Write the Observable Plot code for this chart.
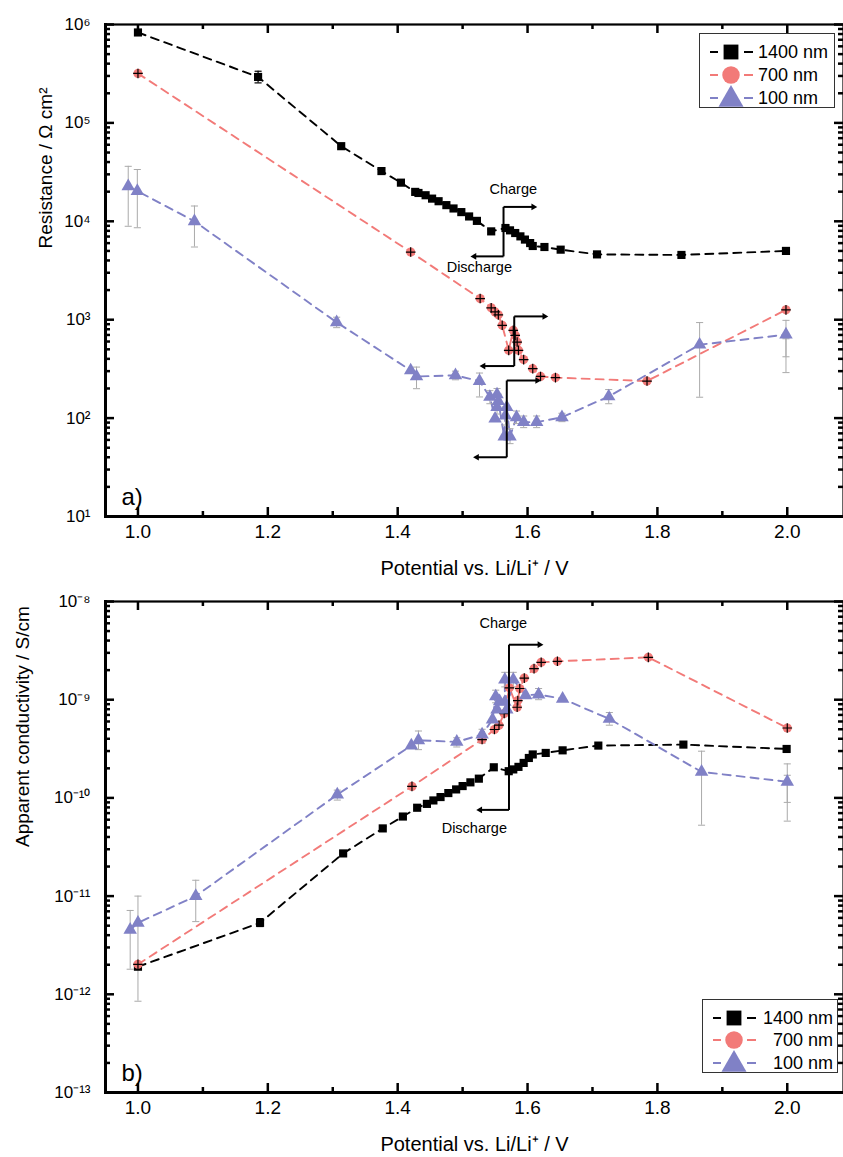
<!DOCTYPE html>
<html><head><meta charset="utf-8">
<script src="https://cdn.jsdelivr.net/npm/d3@7"></script>
<script src="https://cdn.jsdelivr.net/npm/@observablehq/plot@0.6"></script>
<style>
body{margin:0;background:#fff;font-family:"Liberation Sans",Arial,sans-serif;}
#wrap{position:relative;width:843px;height:1157px;overflow:hidden;background:#fff;}
#top,#bot{position:absolute;left:0;}
#top{top:0}#bot{top:590px}
.legend{position:absolute;}
</style></head><body><div id="wrap"><div id="top"></div><div id="bot"></div></div>
<script>
// ---------- DATA ----------
const seriesNames = ["1400 nm", "700 nm", "100 nm"];
const colors = ["#000000", "#f27a78", "#8081c6"];
const errGray = "#aaaaaa";

// panel a) Resistance / Ω cm²
const resV1400 = [1.0, 1.185, 1.313, 1.375, 1.405, 1.427, 1.432, 1.443, 1.453, 1.463, 1.475, 1.486, 1.498, 1.51, 1.522, 1.544, 1.566, 1.573, 1.581, 1.589, 1.596, 1.604, 1.608, 1.626, 1.651, 1.707, 1.837, 1.998];
const res1400  = [8.3e5, 2.93e5, 5.8e4, 3.24e4, 2.47e4, 1.99e4, 1.94e4, 1.84e4, 1.70e4, 1.60e4, 1.46e4, 1.35e4, 1.24e4, 1.12e4, 1.01e4, 7.9e3, 8.55e3, 8.09e3, 7.6e3, 7.03e3, 6.52e3, 6.01e3, 5.61e3, 5.48e3, 5.15e3, 4.61e3, 4.55e3, 5.0e3];
const resV700 = [1.0, 1.42, 1.527, 1.544, 1.55, 1.555, 1.561, 1.571, 1.578, 1.581, 1.584, 1.586, 1.594, 1.608, 1.62, 1.643, 1.784, 1.998];
const res700  = [3.18e5, 4.87e3, 1.64e3, 1.32e3, 1.2e3, 1.12e3, 877, 488, 780, 693, 593, 488, 393, 318, 265, 258, 238, 1.26e3];
const resV100 = [0.985, 0.999, 1.087, 1.306, 1.42, 1.429, 1.489, 1.526, 1.542, 1.550, 1.553, 1.553, 1.555, 1.564, 1.566, 1.568, 1.573, 1.583, 1.594, 1.614, 1.653, 1.725, 1.865, 1.998];
const res100  = [2.27e4, 2.03e4, 1.0e4, 940, 305, 265, 272, 238, 164, 98.6, 174, 129, 149, 65, 106, 129, 65, 102, 91, 91, 102, 166, 557, 705];
// error bars [potential, low, high]
const resErr1400 = [[1.185, 2.55e5, 3.35e5]];
const resErr100 = [[0.985, 8.9e3, 3.62e4], [0.999, 8.6e3, 3.36e4], [1.087, 5.48e3, 1.43e4], [1.306, 830, 1.06e3], [1.429, 199, 330], [1.489, 245, 300], [1.526, 164, 287], [1.542, 140, 190], [1.553, 110, 200], [1.555, 125, 175], [1.566, 85, 130], [1.573, 55, 78], [1.583, 88, 118], [1.594, 80, 105], [1.614, 80, 105], [1.653, 92, 112], [1.725, 140, 195], [1.865, 163, 935], [1.998, 290, 985], [1.998, 420, 640]];

// panel b) Apparent conductivity / S/cm
const conV1400 = [1.0, 1.188, 1.316, 1.377, 1.408, 1.43, 1.445, 1.455, 1.466, 1.478, 1.49, 1.5, 1.512, 1.525, 1.548, 1.571, 1.578, 1.586, 1.594, 1.602, 1.608, 1.628, 1.654, 1.709, 1.840, 1.999];
const con1400  = [1.91e-12, 5.35e-12, 2.72e-11, 4.89e-11, 6.46e-11, 7.94e-11, 8.69e-11, 9.42e-11, 1.02e-10, 1.12e-10, 1.22e-10, 1.32e-10, 1.44e-10, 1.57e-10, 2.05e-10, 1.87e-10, 1.95e-10, 2.07e-10, 2.27e-10, 2.55e-10, 2.77e-10, 2.87e-10, 3.05e-10, 3.41e-10, 3.49e-10, 3.15e-10];
const conV700 = [1.0, 1.422, 1.530, 1.549, 1.556, 1.564, 1.572, 1.584, 1.585, 1.588, 1.595, 1.610, 1.621, 1.646, 1.786, 2.0];
const con700  = [2.02e-12, 1.31e-10, 3.93e-10, 4.97e-10, 5.5e-10, 7.23e-10, 1.32e-9, 8.38e-10, 9.79e-10, 1.30e-9, 1.66e-9, 2.07e-9, 2.40e-9, 2.46e-9, 2.70e-9, 5.15e-10];
const conV100 = [0.988, 1.0, 1.089, 1.307, 1.421, 1.432, 1.491, 1.530, 1.546, 1.551, 1.553, 1.557, 1.565, 1.565, 1.568, 1.578, 1.597, 1.617, 1.654, 1.726, 1.868, 2.0];
const con100  = [4.54e-12, 5.35e-12, 1.0e-11, 1.08e-10, 3.41e-10, 3.86e-10, 3.72e-10, 4.42e-10, 6.27e-10, 1.08e-9, 7.94e-10, 9.64e-10, 9.48e-10, 1.60e-9, 7.94e-10, 1.60e-9, 1.11e-9, 1.13e-9, 1.02e-9, 6.37e-10, 1.84e-10, 1.46e-10];
const conErr1400 = [[1.188, 4.9e-12, 5.9e-12]];
const conErr100 = [[0.988, 1.80e-12, 7.14e-12], [1.0, 8.5e-13, 1.0e-11], [1.089, 5.5e-12, 1.45e-11], [1.307, 9.5e-11, 1.2e-10], [1.432, 3.1e-10, 4.8e-10], [1.491, 3.3e-10, 4.1e-10], [1.530, 3.6e-10, 5.0e-10], [1.565, 1.35e-9, 1.9e-9], [1.578, 1.35e-9, 1.9e-9], [1.551, 9.3e-10, 1.25e-9], [1.617, 1.0e-9, 1.3e-9], [1.726, 5.5e-10, 7.4e-10], [1.868, 5.27e-11, 2.99e-10], [2.0, 5.8e-11, 2.22e-10], [2.0, 9.0e-11, 1.7e-10]];

// axes
const xMajor = [1.0, 1.2, 1.4, 1.6, 1.8, 2.0];
const xMinor = [1.1, 1.3, 1.5, 1.7, 1.9];
const xDomain = [0.95, 2.0866];
const resDecades = [1, 2, 3, 4, 5, 6];
const conDecades = [-13, -12, -11, -10, -9, -8];

// annotations
const resArrows = [
  {x: 1.563, yTop: 1.40e4, yBot: 4.4e3, xR: 1.609, xL: 1.518},
  {x: 1.5795, yTop: 1.08e3, yBot: 338, xR: 1.626, xL: 1.532},
  {x: 1.568, yTop: 241, yBot: 40, xR: 1.615, xL: 1.522}
];
const resNotes = [{x: 1.578, y: 2.11e4, t: "Charge"}, {x: 1.5257, y: 3.43e3, t: "Discharge"}];
const conArrows = [{x: 1.5714, yTop: 3.63e-9, yBot: 7.55e-11, xR: 1.6185, xL: 1.527}];
const conNotes = [{x: 1.5626, y: 6.03e-9, t: "Charge"}, {x: 1.518, y: 4.95e-11, t: "Discharge"}];

// ---------- BUILD ----------
const FONT = "'Liberation Sans', Arial, sans-serif";
const W = 843, ML = 105, MR = 0;
const supMap = {"-": "\u207B", "0": "\u2070", "1": "\u00B9", "2": "\u00B2", "3": "\u00B3", "4": "\u2074", "5": "\u2075", "6": "\u2076", "7": "\u2077", "8": "\u2078", "9": "\u2079"};
const sup = d => "10" + String(Math.round(Math.log10(d))).split("").map(c => supMap[c]).join("");
const rec = (vs, ys) => vs.map((v, i) => ({v, y: ys[i]}));
const errRec = arr => arr.map(([v, lo, hi]) => ({v, lo, hi}));
const capSym = {draw(ctx, size) { const w = Math.sqrt(size) / 2; ctx.moveTo(-w, 0); ctx.lineTo(w, 0); }};

function panel({height, marginTop, marginBottom, decades, d1400, d700, d100, e1400, e100, arrows, notes, ylabel, yDx, yDy, tag}) {
  const yMajor = decades.map(k => Math.pow(10, k));
  const yMinor = [];
  for (const k of decades.slice(0, -1)) for (let m = 2; m <= 9; m++) yMinor.push(m * Math.pow(10, k));
  const yLo = yMajor[0], yHi = yMajor[yMajor.length - 1];
  const fh = height - marginTop - marginBottom, fw = W - ML - MR;
  const dash = "8,6";
  const tk = {stroke: "#000", strokeWidth: 2.5};
  return Plot.plot({
    width: W, height, marginLeft: ML, marginRight: MR, marginTop, marginBottom,
    style: {fontFamily: FONT, fontSize: "15px", color: "#000", background: "white", overflow: "visible"},
    x: {domain: xDomain},
    y: {type: "log", domain: [yLo, yHi]},
    marks: [
      // inward ticks on all four sides (rules inset down to tick length)
      Plot.ruleX(xMajor, {x: d => d, insetTop: fh - 9, ...tk}),
      Plot.ruleX(xMinor, {x: d => d, insetTop: fh - 5, ...tk}),
      Plot.ruleX(xMajor, {x: d => d, insetBottom: fh - 9, ...tk}),
      Plot.ruleX(xMinor, {x: d => d, insetBottom: fh - 5, ...tk}),
      Plot.ruleY(yMajor, {y: d => d, insetRight: fw - 9, ...tk}),
      Plot.ruleY(yMinor, {y: d => d, insetRight: fw - 5, ...tk}),
      Plot.ruleY(yMajor, {y: d => d, insetLeft: fw - 9, ...tk}),
      Plot.ruleY(yMinor, {y: d => d, insetLeft: fw - 5, ...tk}),
      // tick labels
      Plot.axisX({anchor: "bottom", ticks: xMajor, tickSize: 0, tickPadding: 8, tickFormat: d3.format(".1f"), fontSize: 19}),
      Plot.axisY({anchor: "left", ticks: yMajor, tickSize: 0, tickPadding: 15, tickFormat: sup, fontSize: 17}),
      Plot.frame({stroke: "#000", strokeWidth: 2.2}),
      Plot.frame({anchor: "left", stroke: "#000", strokeWidth: 3}),
      Plot.frame({anchor: "bottom", stroke: "#000", strokeWidth: 3}),
      Plot.text(["Potential vs. Li/Li\u207A / V"], {frameAnchor: "bottom", dy: 58, text: d => d, fontSize: 20}),
      Plot.text([ylabel], {frameAnchor: "left", rotate: -90, dx: yDx, dy: yDy, text: d => d, fontSize: 19}),
      Plot.text([tag], {frameAnchor: "bottom-left", dx: 16, dy: -12, text: d => d, fontSize: 24, textAnchor: "start", lineAnchor: "bottom"}),
      // dashed series lines
      Plot.line(d1400, {x: "v", y: "y", stroke: colors[0], strokeWidth: 1.9, strokeDasharray: dash}),
      Plot.line(d700, {x: "v", y: "y", stroke: colors[1], strokeWidth: 1.9, strokeDasharray: dash}),
      Plot.line(d100, {x: "v", y: "y", stroke: colors[2], strokeWidth: 1.9, strokeDasharray: dash}),
      // error bars
      Plot.ruleX(e100, {x: "v", y1: "lo", y2: "hi", stroke: errGray, strokeWidth: 1}),
      Plot.dot(e100, {x: "v", y: "lo", symbol: capSym, r: 4, stroke: errGray, strokeWidth: 1}),
      Plot.dot(e100, {x: "v", y: "hi", symbol: capSym, r: 4, stroke: errGray, strokeWidth: 1}),
      Plot.ruleX(e1400, {x: "v", y1: "lo", y2: "hi", stroke: "#000", strokeWidth: 1.2}),
      Plot.dot(e1400, {x: "v", y: "lo", symbol: capSym, r: 4, stroke: "#000", strokeWidth: 1.2}),
      Plot.dot(e1400, {x: "v", y: "hi", symbol: capSym, r: 4, stroke: "#000", strokeWidth: 1.2}),
      // markers
      Plot.dot(d1400, {x: "v", y: "y", symbol: "square", fill: colors[0], r: 4.6}),
      Plot.dot(d700, {x: "v", y: "y", symbol: "circle", fill: colors[1], r: 4.6}),
      Plot.dot(d700, {x: "v", y: "y", symbol: "plus", stroke: "#000", r: 3.2, strokeWidth: 1.2}),
      Plot.dot(d100, {x: "v", y: "y", symbol: "triangle", fill: colors[2], r: 5}),
      // charge / discharge arrows
      Plot.link(arrows, {x1: "x", x2: "x", y1: "yBot", y2: "yTop", stroke: "#000", strokeWidth: 2}),
      Plot.link(arrows, {x1: "x", x2: "xR", y1: "yTop", y2: "yTop", stroke: "#000", strokeWidth: 2}),
      Plot.link(arrows, {x1: "x", x2: "xL", y1: "yBot", y2: "yBot", stroke: "#000", strokeWidth: 2}),
      Plot.dot(arrows, {x: "xR", y: "yTop", symbol: "triangle2", rotate: 90, fill: "#000", r: 3.2}),
      Plot.dot(arrows, {x: "xL", y: "yBot", symbol: "triangle2", rotate: -90, fill: "#000", r: 3.2}),
      Plot.text(notes, {x: "x", y: "y", text: "t", fontSize: 14.5})
    ]
  });
}

const topPlot = panel({
  height: 590, marginTop: 24, marginBottom: 74, decades: resDecades,
  d1400: rec(resV1400, res1400), d700: rec(resV700, res700), d100: rec(resV100, res100),
  e1400: errRec(resErr1400), e100: errRec(resErr100),
  arrows: resArrows, notes: resNotes, ylabel: "Resistance / \u03A9 cm\u00B2", yDx: -60, yDy: -22, tag: "a)"
});
document.getElementById("top").appendChild(topPlot);

const botPlot = panel({
  height: 567, marginTop: 11, marginBottom: 65, decades: conDecades,
  d1400: rec(conV1400, con1400), d700: rec(conV700, con700), d100: rec(conV100, con100),
  e1400: errRec(conErr1400), e100: errRec(conErr100),
  arrows: conArrows, notes: conNotes, ylabel: "Apparent conductivity / S/cm", yDx: -83, yDy: 0, tag: "b)"
});
document.getElementById("bot").appendChild(botPlot);

// ---------- LEGENDS ----------
const symbols = [d3.symbolSquare, d3.symbolCircle, d3.symbolTriangle];
const sizes = [220, 240, 270];
function legend(left, top, w, h, rows, align) {
  const div = document.createElement("div");
  div.className = "legend";
  div.style.left = left + "px"; div.style.top = top + "px";
  let s = `<svg width="${w}" height="${h}" style="display:block;overflow:visible">`;
  s += `<rect x="0.5" y="0.5" width="${w - 1}" height="${h - 1}" fill="white" stroke="#333" stroke-width="1"/>`;
  seriesNames.forEach((name, i) => {
    const y = rows[i];
    s += `<line x1="11" x2="19" y1="${y}" y2="${y}" stroke="${colors[i]}" stroke-width="2"/>`;
    s += `<line x1="45" x2="54" y1="${y}" y2="${y}" stroke="${colors[i]}" stroke-width="2"/>`;
    const dy = i === 2 ? 1.5 : 0;
    s += `<path transform="translate(32,${y + dy})" d="${d3.symbol(symbols[i], sizes[i])()}" fill="${colors[i]}"/>`;
    if (align === "start") s += `<text x="59" y="${y}" dy="0.36em" font-size="18" font-family="${FONT}">${name}</text>`;
    else s += `<text x="${w - 5}" y="${y}" dy="0.36em" text-anchor="end" font-size="18" font-family="${FONT}">${name}</text>`;
  });
  s += `</svg>`;
  div.innerHTML = s;
  document.getElementById("wrap").appendChild(div);
}
legend(699, 33, 136, 75, [19, 42, 65], "start");
legend(702, 999, 136, 74, [19, 41, 64], "end");
</script></body></html>
